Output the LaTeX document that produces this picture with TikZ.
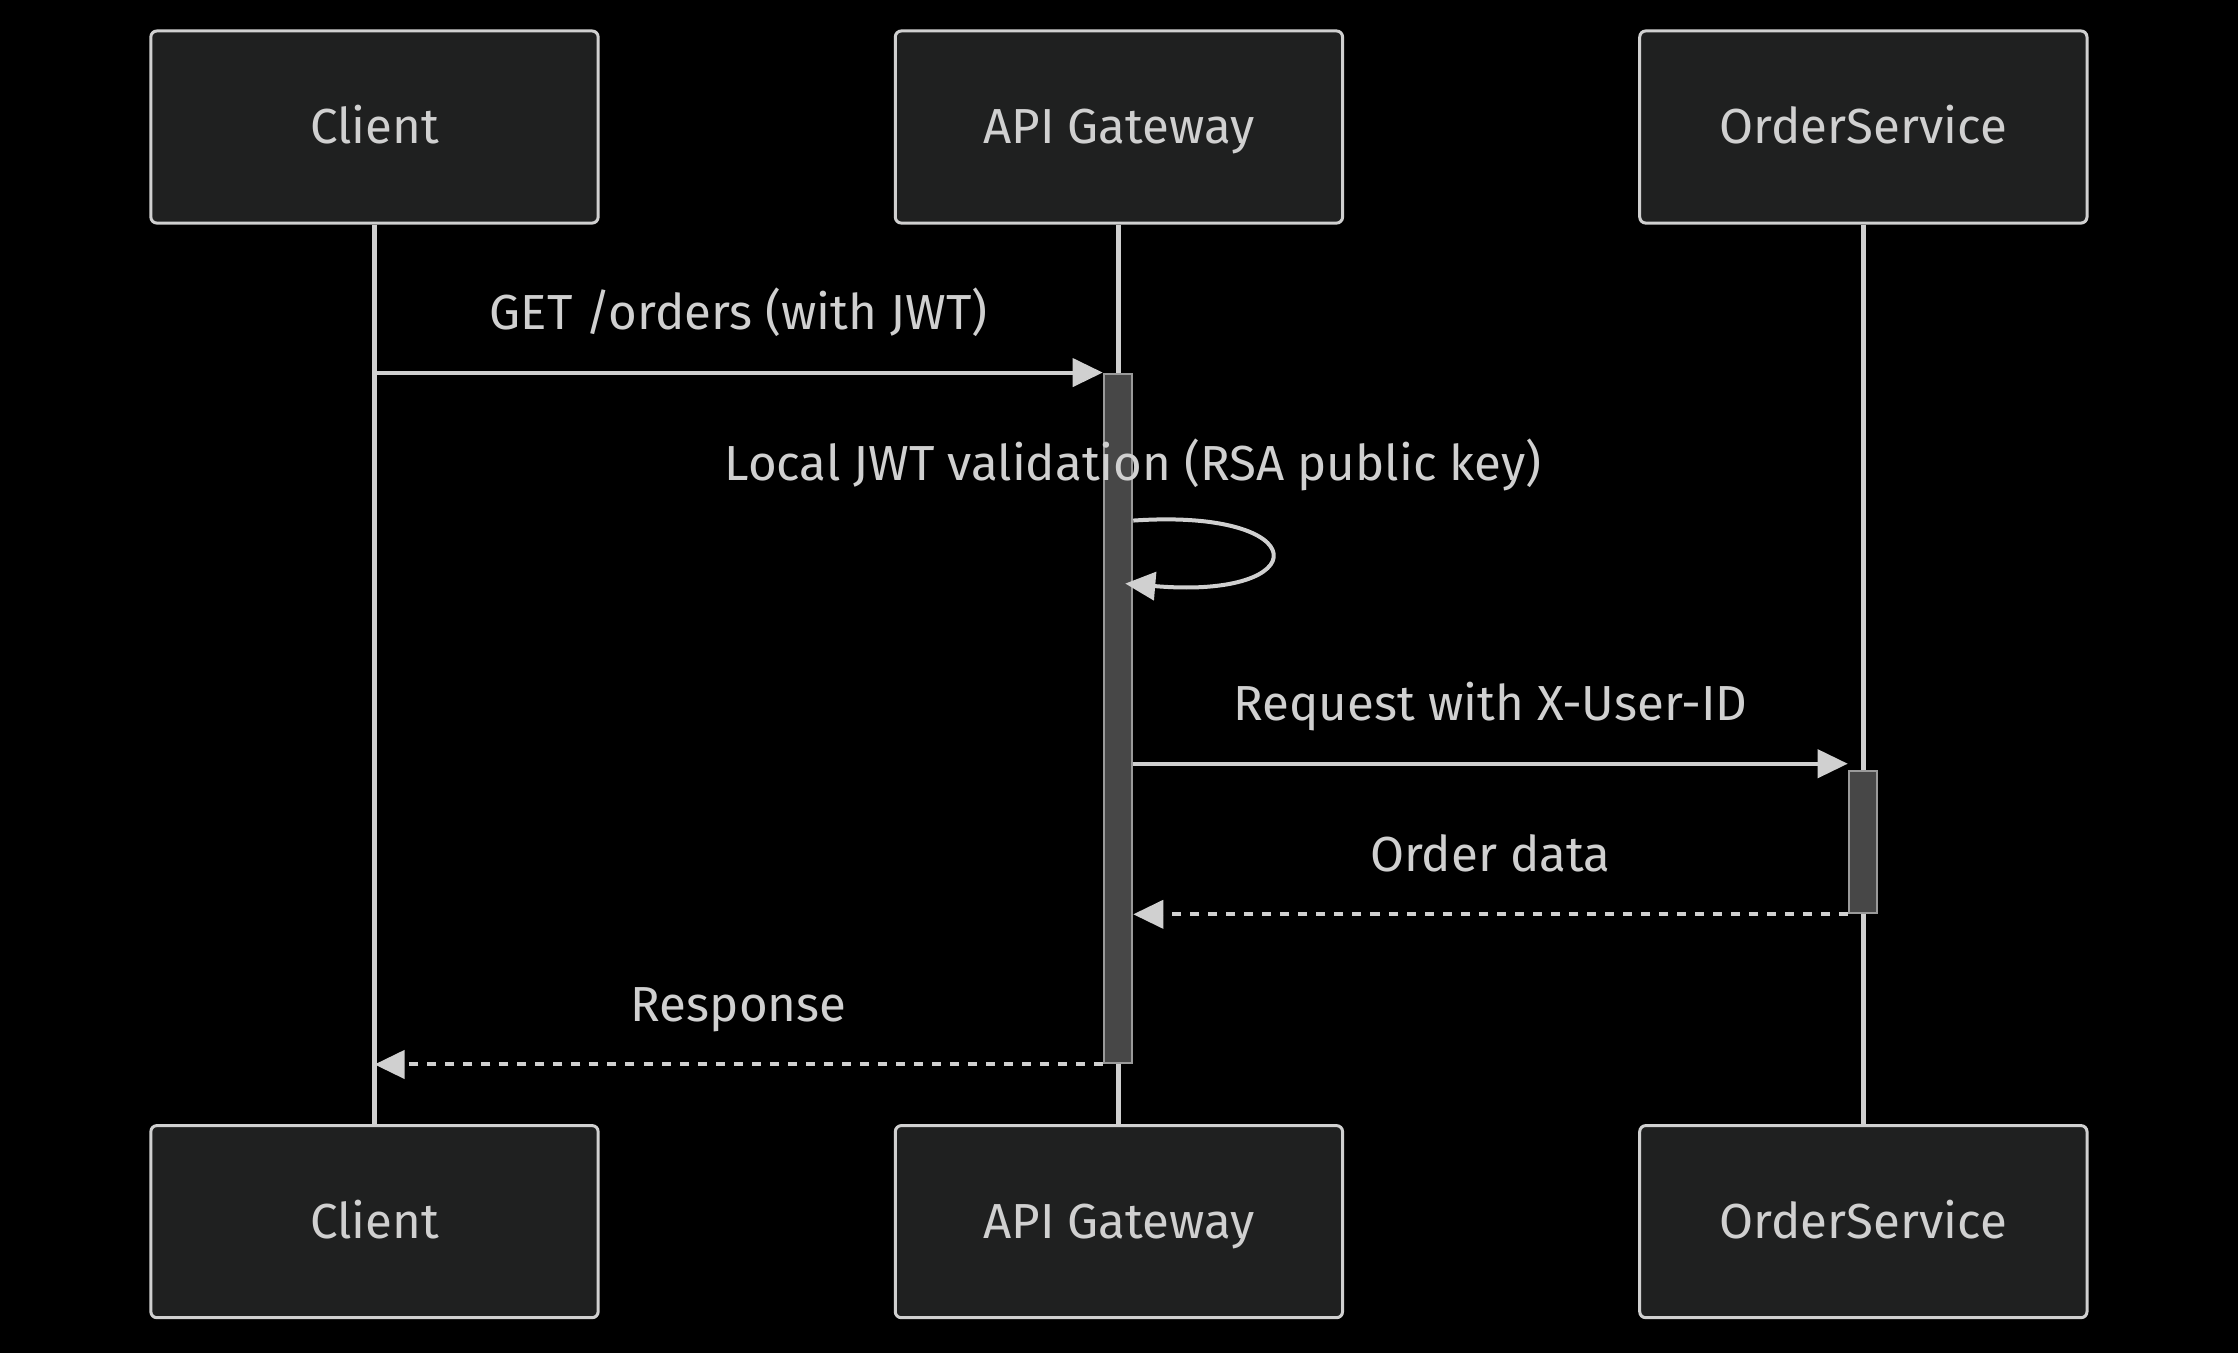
\documentclass[tikz,border=0pt]{standalone}
\usepackage{fontspec}
\setmainfont{Fira Sans}
\usetikzlibrary{positioning, calc, arrows.meta}

\definecolor{actorfill}{HTML}{1F2020}
\definecolor{linegray}{HTML}{D0D0D0}
\definecolor{textgray}{HTML}{D0D0D0}
\definecolor{actfill}{HTML}{474747}
\definecolor{actline}{HTML}{9A9A9A}

\begin{document}
\begin{tikzpicture}[x=0.01cm, y=-0.01cm, node distance=2.94cm,
        actor/.style={rectangle, rounded corners=0.06cm, draw=linegray, line width=0.03cm, fill=actorfill,
                minimum width=4.47cm, minimum height=1.92cm, text=textgray, font=\fontsize{14}{16}\selectfont,
                text height=9.6pt, text depth=0pt},
        act/.style={rectangle, draw=actline, line width=0.025cm, fill=actfill, minimum width=0.28cm, inner sep=0pt},
        life/.style={draw=linegray, line width=0.05cm},
        msg/.style={draw=linegray, line width=0.04cm, -{Triangle[length=0.3cm, width=0.28cm]}},
        reply/.style={msg, dash pattern=on 0.09cm off 0.09cm},
        lbl/.style={text=textgray, font=\fontsize{14}{16}\selectfont, anchor=base, inner sep=0pt}]
        \fill[black] (0,0) rectangle (2238,1353);
        \useasboundingbox (0,0) rectangle (2238,1353);

        % Nodes
        \node[actor] (client) at (374.5,127) {Client};
        \node[actor] (gw) [right=of client] {API Gateway};
        \node[actor] (order) [right=of gw] {OrderService};
        \node[actor] (client-bot) [below=8.99cm of client] {Client};
        \node[actor] (gw-bot) [below=8.99cm of gw] {API Gateway};
        \node[actor] (order-bot) [below=8.99cm of order] {OrderService};

        % Lifelines
        \foreach \a in {client, gw, order} {
                \draw[life] (\a.south) -- (\a-bot.north);
        }

        % Activations
        \node[act, minimum height=6.89cm] (gwact) at (1118,718.5) {};
        \node[act, minimum height=1.42cm] (orderact) at (1863,842) {};

        % Messages
        \draw[msg] (client.south |- gwact.north) -- (gwact.north west)
                node[lbl, midway, yshift=0.43cm] {GET /orders (with JWT)};

        \coordinate (loopA) at ($(gwact.north east)+(0,148)$);
        \coordinate (loopB) at ($(gwact.north east)+(-8,211)$);
        \node[lbl] (jwt) at (1133,480) {Local JWT validation (RSA public key)};
        \draw[msg] (loopA) .. controls (1317,508) and (1317,600) .. (loopB);

        \coordinate (reqA) at ($(orderact.north west)+(0,-6)$);
        \draw[msg] (gwact.east |- reqA) -- (reqA)
                node[lbl, midway, yshift=0.43cm] {Request with X-User-ID};

        \draw[reply] (orderact.south west) -- (gwact.east |- orderact.south)
                node[lbl, midway, yshift=0.43cm] {Order data};

        \draw[reply] (gwact.south west) -- (client.south |- gwact.south)
                node[lbl, midway, yshift=0.43cm] {Response};
\end{tikzpicture}
\end{document}
